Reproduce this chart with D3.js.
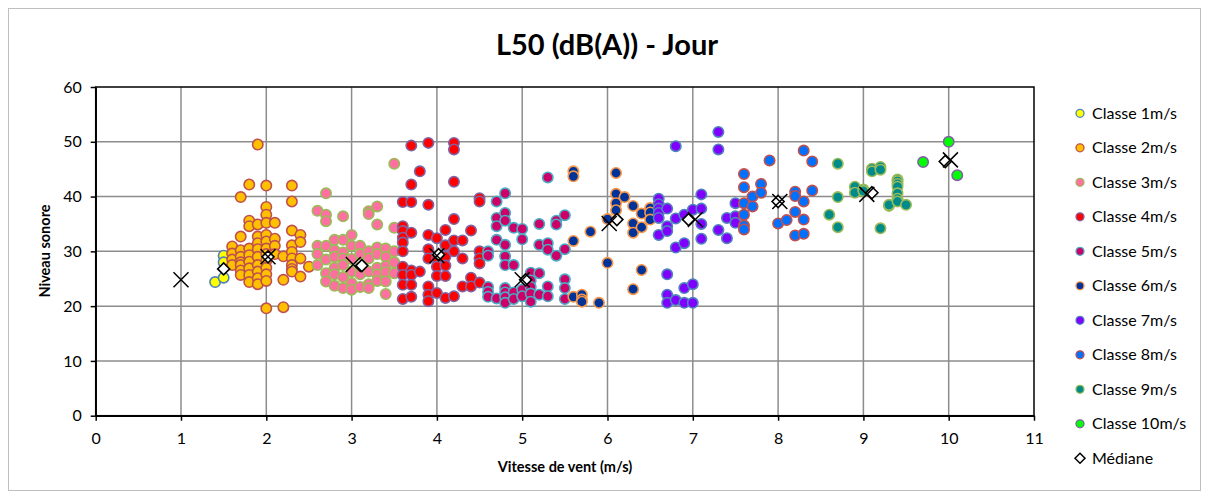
<!DOCTYPE html>
<html><head><meta charset="utf-8">
<script src="https://cdn.jsdelivr.net/npm/d3@7"></script>
<style>
html,body{margin:0;padding:0;background:#fff;}
svg{display:block;font-family:Lato,"Open Sans",sans-serif;}
</style></head>
<body><svg id="c" width="1210" height="499"></svg>
<script>
const title = "L50 (dB(A)) - Jour";
const xTitle = "Vitesse de vent (m/s)";
const yTitle = "Niveau sonore";
const xTicks = [0,1,2,3,4,5,6,7,8,9,10,11];
const yTicks = [0,10,20,30,40,50,60];
const seriesNames = ["Classe 1m/s","Classe 2m/s","Classe 3m/s","Classe 4m/s","Classe 5m/s","Classe 6m/s","Classe 7m/s","Classe 8m/s","Classe 9m/s","Classe 10m/s"];
const fills = ["#FFFF00","#FFC000","#FF6F9F","#FF0000","#CC0066","#003399","#8000FF","#0070FF","#008B8B","#00FF00"];
const strokes = ["#4F81BD","#C0504D","#9BBB59","#8064A2","#4BACC6","#F79646","#4F81BD","#C0504D","#9BBB59","#8064A2"];

// each series: [wind speed, level] pairs
const classe1 = [[1.4,24.4],[1.5,25.2],[1.5,29.2],[1.5,28.0]];
const classe2 = [
 [1.6,30.9],[1.6,29.6],[1.6,28.5],[1.6,27.5],
 [1.7,39.9],[1.7,32.7],[1.7,30.2],[1.7,29.0],[1.7,28.0],[1.7,27.5],[1.7,26.5],[1.7,25.7],
 [1.8,42.2],[1.8,35.6],[1.8,34.6],[1.8,30.5],[1.8,29.3],[1.8,28.1],[1.8,26.9],[1.8,25.7],[1.8,24.4],
 [1.9,49.5],[1.9,34.9],[1.9,32.7],[1.9,31.5],[1.9,30.4],[1.9,29.0],[1.9,27.5],[1.9,26.3],[1.9,25.1],[1.9,24.0],
 [2.0,42.0],[2.0,38.1],[2.0,36.7],[2.0,35.2],[2.0,33.0],[2.0,31.8],[2.0,30.5],[2.0,29.5],[2.0,28.3],[2.0,27.0],[2.0,25.8],[2.0,24.6],[2.0,19.6],
 [2.1,35.2],[2.1,32.3],[2.1,31.0],[2.1,29.5],
 [2.2,29.1],[2.2,24.8],[2.2,19.8],
 [2.3,42.0],[2.3,39.1],[2.3,33.8],[2.3,31.1],[2.3,29.9],[2.3,28.7],[2.3,27.5],[2.3,26.8],[2.3,26.3],
 [2.4,33.0],[2.4,31.7],[2.4,28.7],[2.4,25.4],
 [2.5,27.2]];
const classe3 = [
 [2.6,37.4],[2.6,31.0],[2.6,29.5],[2.6,27.5],
 [2.7,40.6],[2.7,36.7],[2.7,35.5],[2.7,31.0],[2.7,28.5],[2.7,26.0],[2.7,24.5],
 [2.8,32.1],[2.8,30.2],[2.8,29.0],[2.8,27.0],[2.8,25.8],[2.8,23.7],
 [2.9,36.4],[2.9,32.1],[2.9,29.8],[2.9,28.7],[2.9,27.5],[2.9,25.3],[2.9,23.3],
 [3.0,33.0],[3.0,31.0],[3.0,28.6],[3.0,26.3],[3.0,24.2],[3.0,23.0],
 [3.1,31.0],[3.1,29.5],[3.1,27.0],[3.1,25.8],[3.1,23.5],
 [3.2,37.3],[3.2,36.8],[3.2,30.0],[3.2,28.7],[3.2,26.3],[3.2,24.0],[3.2,23.3],
 [3.3,38.2],[3.3,34.9],[3.3,30.7],[3.3,29.5],[3.3,27.0],[3.3,25.8],[3.3,24.6],
 [3.4,30.5],[3.4,29.0],[3.4,27.3],[3.4,26.2],[3.4,24.5],[3.4,22.2],
 [3.5,46.0],[3.5,34.3],[3.5,30.0],[3.5,28.0],[3.5,26.0]];
const classe4 = [
 [3.6,39.0],[3.6,34.6],[3.6,33.7],[3.6,32.5],[3.6,31.6],[3.6,30.0],[3.6,27.2],[3.6,25.7],[3.6,23.9],[3.6,21.3],
 [3.7,49.3],[3.7,42.2],[3.7,39.0],[3.7,33.4],[3.7,26.5],[3.7,25.7],[3.7,23.9],[3.7,21.7],
 [3.8,44.6],[3.8,26.3],
 [3.9,49.8],[3.9,38.5],[3.9,33.0],[3.9,30.4],[3.9,28.7],[3.9,23.6],[3.9,22.1],[3.9,20.9],
 [4.0,32.4],[4.0,28.7],[4.0,27.2],[4.0,25.5],[4.0,22.4],
 [4.1,33.9],[4.1,31.1],[4.1,29.0],[4.1,27.4],[4.1,25.5],[4.1,21.5],
 [4.2,49.8],[4.2,48.6],[4.2,42.7],[4.2,35.9],[4.2,32.0],[4.2,30.0],[4.2,21.8],
 [4.3,32.0],[4.3,28.7],[4.3,23.6],
 [4.4,33.8],[4.4,25.2],[4.4,23.6],
 [4.5,39.7],[4.5,39.1],[4.5,30.0],[4.5,28.7],[4.5,27.8],[4.5,24.3]];
const classe5 = [
 [4.6,30.0],[4.6,29.2],[4.6,23.5],[4.6,22.6],[4.6,21.7],
 [4.7,39.1],[4.7,36.1],[4.7,34.6],[4.7,32.1],[4.7,21.4],
 [4.8,40.6],[4.8,37.0],[4.8,35.6],[4.8,31.2],[4.8,29.1],[4.8,27.5],[4.8,23.3],[4.8,22.5],[4.8,21.6],[4.8,20.6],
 [4.9,34.3],[4.9,27.5],[4.9,22.5],[4.9,21.3],
 [5.0,34.1],[5.0,32.2],[5.0,23.0],[5.0,21.8],
 [5.1,26.1],[5.1,24.7],[5.1,23.5],[5.1,22.3],[5.1,20.8],
 [5.2,35.0],[5.2,31.2],[5.2,26.0],[5.2,22.1],
 [5.3,43.5],[5.3,31.5],[5.3,30.3],[5.3,23.6],[5.3,21.8],
 [5.4,35.6],[5.4,34.9],[5.4,29.2],
 [5.5,36.6],[5.5,30.4],[5.5,24.9],[5.5,23.3],[5.5,21.3]];
const classe6 = [
 [5.6,44.6],[5.6,43.7],[5.6,31.9],[5.6,21.7],
 [5.7,22.1],[5.7,21.2],[5.7,20.8],
 [5.8,33.6],[5.9,20.6],
 [6.0,35.9],[6.0,27.9],
 [6.1,44.3],[6.1,40.5],[6.1,38.8],[6.1,37.5],
 [6.2,39.9],
 [6.3,38.3],[6.3,35.1],[6.3,33.4],[6.3,23.1],
 [6.4,36.9],[6.4,34.4],[6.4,26.6],
 [6.5,37.9],[6.5,37.1],[6.5,35.8]];
const classe7 = [
 [6.6,39.6],[6.6,38.6],[6.6,37.8],[6.6,37.0],[6.6,36.1],[6.6,33.0],
 [6.7,37.8],[6.7,34.6],[6.7,33.7],[6.7,25.8],[6.7,22.1],[6.7,20.6],
 [6.8,49.2],[6.8,36.0],[6.8,30.7],[6.8,21.1],
 [6.9,36.7],[6.9,31.5],[6.9,23.3],[6.9,20.6],
 [7.0,37.6],[7.0,24.0],[7.0,20.6],
 [7.1,40.4],[7.1,37.8],[7.1,35.0],[7.1,32.3],
 [7.3,51.8],[7.3,48.6],[7.3,33.9],
 [7.4,36.1],[7.4,32.4],
 [7.5,38.8],[7.5,36.4],[7.5,35.2]];
const classe8 = [
 [7.6,44.1],[7.6,41.7],[7.6,38.8],[7.6,36.7],[7.6,34.7],[7.6,34.0],
 [7.7,40.0],[7.7,38.2],
 [7.8,42.3],[7.8,40.7],
 [7.9,46.6],
 [8.0,35.1],[8.1,35.7],
 [8.2,40.9],[8.2,40.1],[8.2,37.2],[8.2,32.9],
 [8.3,48.4],[8.3,39.1],[8.3,35.8],[8.3,33.2],
 [8.4,46.4],[8.4,41.1]];
const classe9 = [
 [8.6,36.7],
 [8.7,46.0],[8.7,39.9],[8.7,34.4],
 [8.9,41.8],[8.9,40.7],
 [9.0,41.3],[9.0,41.0],
 [9.1,45.1],[9.1,44.6],
 [9.2,45.4],[9.2,44.9],[9.2,34.2],
 [9.3,38.3],[9.3,38.5],
 [9.4,43.1],[9.4,42.8],[9.4,42.3],[9.4,41.8],[9.4,40.6],[9.4,39.6],[9.4,39.1],
 [9.5,38.5]];
const classe10 = [[9.7,46.3],[10.0,50.0],[10.1,43.9]];
const mediane = [[1.5,26.8],[2.02,29.0],[3.12,27.4],[4.02,29.4],[5.04,24.8],[6.11,35.8],[6.95,35.8],[8.0,39.1],[9.1,40.7],[9.96,46.4]];
const moyenne = [[1.0,24.8],[2.02,29.0],[3.02,27.6],[4.0,29.2],[5.0,24.8],[6.02,35.1],[7.03,35.8],[8.02,39.1],[9.04,40.4],[10.02,46.7]];
const allSeries = [classe1,classe2,classe3,classe4,classe5,classe6,classe7,classe8,classe9,classe10];

const svg = d3.select("#c");
const L = 95.7, R = 1034, T = 87, B = 415.7;
const x = d3.scaleLinear().domain([0,11]).range([L,R]);
const y = d3.scaleLinear().domain([0,60]).range([B,T]);

// outer border
svg.append("rect").attr("x",8.5).attr("y",8.5).attr("width",1192).attr("height",482)
  .attr("fill","#fff").attr("stroke","#bfbfbf").attr("stroke-width",1);

// title
svg.append("text").attr("x",607).attr("y",55).attr("text-anchor","middle")
  .attr("font-size",29).attr("font-weight","bold").attr("fill","#000").text(title);

// gridlines
const g = svg.append("g");
g.selectAll("line.v").data(xTicks.slice(1,-1)).join("line")
  .attr("x1",d=>x(d)).attr("x2",d=>x(d)).attr("y1",T).attr("y2",B)
  .attr("stroke","#8c8c8c").attr("stroke-width",1.5);
g.selectAll("line.h").data(yTicks.slice(1,-1)).join("line")
  .attr("y1",d=>y(d)).attr("y2",d=>y(d)).attr("x1",L).attr("x2",R)
  .attr("stroke","#8c8c8c").attr("stroke-width",1.5);
// plot border
g.append("rect").attr("x",L).attr("y",T).attr("width",R-L).attr("height",B-T)
  .attr("fill","none").attr("stroke","#000").attr("stroke-width",1.5);

// axes
const xAxis = d3.axisBottom(x).tickValues(xTicks).tickSize(5).tickSizeOuter(0).tickPadding(12);
const yAxis = d3.axisLeft(y).tickValues(yTicks).tickSize(5).tickSizeOuter(0).tickPadding(9);
const gx = svg.append("g").attr("transform",`translate(0,${B})`).call(xAxis);
const gy = svg.append("g").attr("transform",`translate(${L},0)`).call(yAxis);
[gx,gy].forEach(a=>{
  a.select(".domain").attr("stroke","#000").attr("stroke-width",1.5);
  a.selectAll(".tick line").attr("stroke","#000").attr("stroke-width",1.5);
  a.selectAll(".tick text").attr("font-size",16).attr("fill","#000").attr("font-family","Lato,'Open Sans',sans-serif");
});

// axis titles
svg.append("text").attr("x",565).attr("y",472).attr("text-anchor","middle")
  .attr("font-size",14.5).attr("font-weight","bold").text(xTitle);
svg.append("text").attr("transform","translate(50,251) rotate(-90)").attr("text-anchor","middle")
  .attr("font-size",14.5).attr("font-weight","bold").text(yTitle);

// points
const pts = svg.append("g");
allSeries.forEach((s,i)=>{
  pts.append("g").selectAll("circle").data(s).join("circle")
    .attr("cx",d=>x(d[0])).attr("cy",d=>y(d[1])).attr("r",5.2)
    .attr("fill",fills[i]).attr("stroke",strokes[i]).attr("stroke-width",1.6);
});
// median diamonds
const dm = 6;
pts.append("g").selectAll("path").data(mediane).join("path")
  .attr("d",d=>{const cx=x(d[0]),cy=y(d[1]);return `M${cx},${cy-dm}L${cx+dm},${cy}L${cx},${cy+dm}L${cx-dm},${cy}Z`;})
  .attr("fill","#fff").attr("stroke","#000").attr("stroke-width",1.6);
// crosses
const cs = 7.5;
pts.append("g").selectAll("path").data(moyenne).join("path")
  .attr("d",d=>{const cx=x(d[0]),cy=y(d[1]);return `M${cx-cs},${cy-cs}L${cx+cs},${cy+cs}M${cx-cs},${cy+cs}L${cx+cs},${cy-cs}`;})
  .attr("fill","none").attr("stroke","#000").attr("stroke-width",1.5);

// legend
const leg = svg.append("g");
const legY = d3.range(11).map(i=>113.3 + i*34.5);
seriesNames.forEach((n,i)=>{
  leg.append("circle").attr("cx",1080).attr("cy",legY[i]).attr("r",4)
    .attr("fill",fills[i]).attr("stroke",strokes[i]).attr("stroke-width",1.3);
  leg.append("text").attr("x",1092).attr("y",legY[i]+5.5).attr("font-size",16).text(n);
});
const ly = legY[10], lx = 1080, ld = 5;
leg.append("path").attr("d",`M${lx},${ly-ld}L${lx+ld},${ly}L${lx},${ly+ld}L${lx-ld},${ly}Z`)
  .attr("fill","#fff").attr("stroke","#000").attr("stroke-width",1.5);
leg.append("text").attr("x",1092).attr("y",ly+5.5).attr("font-size",16).text("Médiane");
</script></body></html>
